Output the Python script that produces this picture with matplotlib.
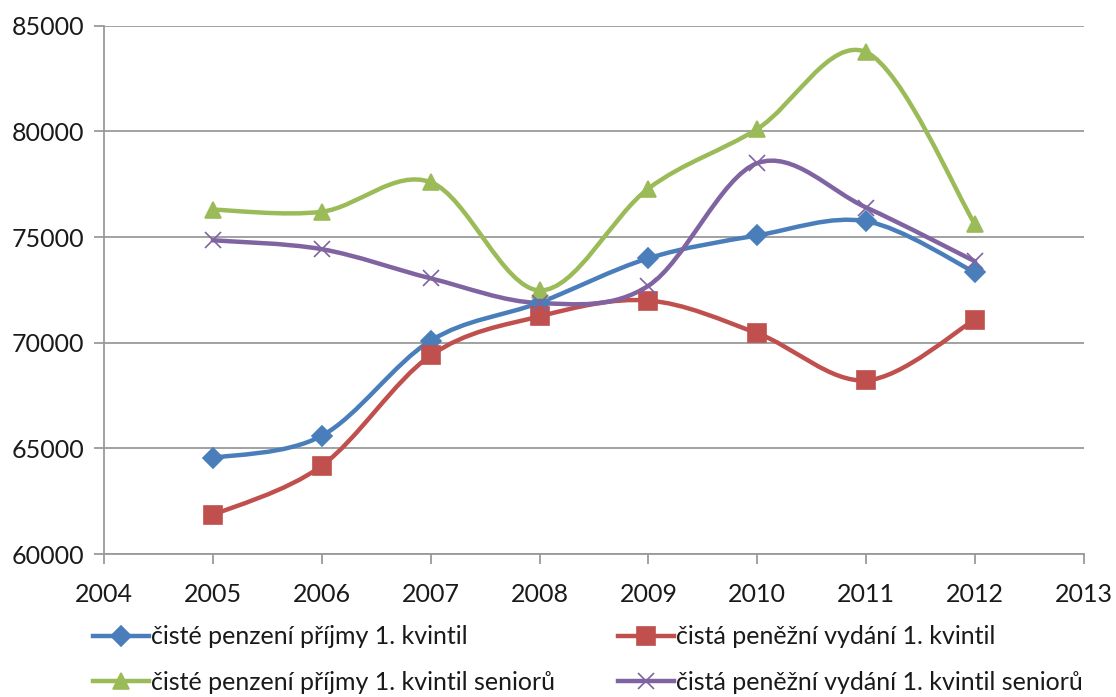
import numpy as np
import matplotlib
matplotlib.use("Agg")
import matplotlib.pyplot as plt
from matplotlib.path import Path
from matplotlib.patches import PathPatch
from matplotlib.lines import Line2D

# data
roky = [2005, 2006, 2007, 2008, 2009, 2010, 2011, 2012]
prijmy_1q = [64550, 65600, 70100, 71900, 74000, 75080, 75750, 73330]
vydani_1q = [61850, 64180, 69400, 71250, 72000, 70450, 68220, 71100]
prijmy_1q_seniori = [76300, 76200, 77600, 72480, 77300, 80120, 83750, 75600]
vydani_1q_seniori = [74850, 74430, 73050, 71880, 72700, 78500, 76400, 73850]

nazvy = ["čisté penzení příjmy 1. kvintil",
         "čistá peněžní vydání 1. kvintil",
         "čisté penzení příjmy 1. kvintil seniorů",
         "čistá peněžní vydání 1. kvintil seniorů"]
barvy = ["#4A7EBB", "#C0504D", "#9BBB59", "#8064A2"]
znacky = ["D", "s", "^", "x"]
velikosti = [10, 13.5, 12, 11]

plt.rcParams['font.family'] = ['Lato', 'DejaVu Sans']


# hladka krivka jako v Excelu (Bezierove segmenty)
def hladka_cesta(x, y):
    x = np.asarray(x, float)
    y = np.asarray(y, float)
    n = len(x)
    verts = [(x[0], y[0])]
    codes = [Path.MOVETO]
    for i in range(n - 1):
        i0 = max(i - 1, 0)
        i3 = min(i + 2, n - 1)
        c1 = (x[i] + (x[i + 1] - x[i0]) / 6, y[i] + (y[i + 1] - y[i0]) / 6)
        c2 = (x[i + 1] - (x[i3] - x[i]) / 6, y[i + 1] - (y[i3] - y[i]) / 6)
        verts += [c1, c2, (x[i + 1], y[i + 1])]
        codes += [Path.CURVE4] * 3
    return Path(verts, codes)


fig = plt.figure(figsize=(11.16, 6.97), dpi=100)
ax = fig.add_axes([0.0932, 0.205, 0.8781, 0.758])

serie = [prijmy_1q, vydani_1q, prijmy_1q_seniori, vydani_1q_seniori]
handles = []
for hodnoty, barva, znacka, vel, nazev in zip(serie, barvy, znacky, velikosti, nazvy):
    patch = PathPatch(hladka_cesta(roky, hodnoty), facecolor="none",
                      edgecolor=barva, lw=3.2, zorder=3, capstyle="round")
    ax.add_patch(patch)
    ax.plot(roky, hodnoty, linestyle="none", marker=znacka, ms=vel,
            color=barva, mec=barva, mew=1.2, zorder=4)
    handles.append(Line2D([], [], color=barva, lw=3.2, marker=znacka, ms=vel,
                          mec=barva, mew=1.2))

ax.set_xlim(2004, 2013)
ax.set_ylim(60000, 85000)
ax.set_xticks(range(2004, 2014))
ax.set_yticks(range(60000, 85001, 5000))
ax.yaxis.grid(True, color="#9a9a9a", lw=1.3)
ax.set_axisbelow(True)

for s in ["top", "right"]:
    ax.spines[s].set_visible(False)
for s in ["left", "bottom"]:
    ax.spines[s].set_color("#9a9a9a")
    ax.spines[s].set_linewidth(1.3)
ax.tick_params(axis="both", colors="#9a9a9a", width=1.3, length=7,
               labelsize=18, labelcolor="#1a1a1a")
ax.tick_params(axis="x", pad=13.5)
ax.tick_params(axis="y", pad=7)

# poradi v legende po radcich
poradi = [0, 2, 1, 3]
fig.legend([handles[i] for i in poradi], [nazvy[i] for i in poradi],
           loc="upper left", bbox_to_anchor=(0.0745, 0.117),
           ncol=2, frameon=False, fontsize=18, handlelength=2.24,
           handletextpad=0.08, columnspacing=2.5, labelspacing=0.9,
           borderaxespad=0, labelcolor="#1a1a1a")

fig.savefig("out.png", dpi=100)
